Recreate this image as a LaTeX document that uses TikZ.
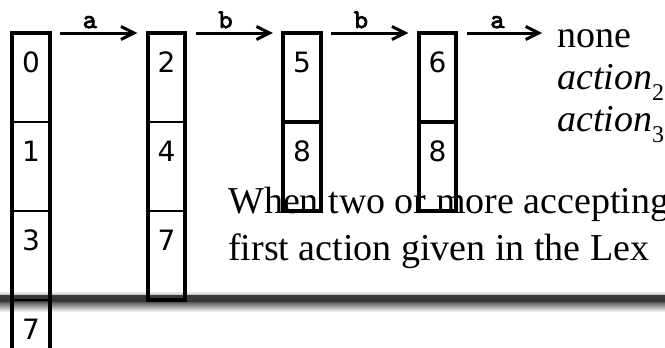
\documentclass[tikz,border=0pt]{standalone}
\usepackage{fontspec}
\setmainfont{Liberation Serif}
\setsansfont{DejaVu Sans}
\newfontfamily\labfont[Extension=.otf,FakeBold=3]{lmmono10-regular}
\usetikzlibrary{arrows.meta}
\newcommand{\act}[1]{\textit{action}\raisebox{-11pt}{\fontsize{24}{24}\selectfont #1}}

\begin{document}
\begin{tikzpicture}[x=1pt,y=-1pt, every node/.style={inner sep=0pt},
  col/.style={draw,line width=4pt,minimum width=37.5pt,outer sep=0pt,anchor=north},
  cell/.style={draw,line width=1.2pt,minimum width=37.5pt,minimum height=89pt,
  anchor=north,outer sep=0pt,text height=39pt,text depth=50pt,
  font=\sffamily\fontsize{28}{28}\selectfont}, tcell/.style={cell,line width=3.5pt},
  edge/.style={-{Straight Barb[length=13pt,width=13pt]},line width=3pt,
  shorten <=10.5pt,shorten >=10.5pt},
  lab/.style={font=\labfont\fontsize{27}{27}\selectfont,anchor=base,yshift=5pt},
  txt/.style={font=\fontsize{38}{38}\selectfont,anchor=base west}]
  \useasboundingbox (0,0) rectangle (665,348); \clip (0,0) rectangle (665,348);
  % slide shadow
  \shade[top color=white,bottom color=gray!55] (0,291) rectangle (665,295);
  \fill[black!78] (0,295) rectangle (665,302);
  \shade[top color=gray!70!black,bottom color=white] (0,302) rectangle (665,312);
  % state sets
  \node[cell] (c0) at (31,33) {0}; \node[cell] (c1) at (31,122) {1}; \node[cell]
  (c3) at (31,211) {3}; \node[cell] (c7a) at (31,300) {7}; \node[col,minimum
  height=356pt] (k1) at (31,33) {}; \node[cell] (c2) at (166.5,33) {2};
  \node[cell] (c4) at (166.5,122) {4}; \node[cell] (c7b) at (166.5,211) {7};
  \node[col,minimum height=267pt] (k2) at (166.5,33) {}; \node[tcell] (c5) at
  (302,33) {5}; \node[tcell] (c8a) at (302,122) {8}; \node[col,minimum
  height=178pt] (k3) at (302,33) {}; \node[tcell] (c6) at (437.5,33) {6};
  \node[tcell] (c8b) at (437.5,122) {8}; \node[col,minimum height=178pt] (k4) at
  (437.5,33) {};
  % actions and note
  \node[txt] (none) at (557,47) {none}; \node[txt] (act2) at (557,89) {\act{2}};
  \node[txt] (act3) at (557,131) {\act{3}}; \node[txt] (note1) at (228,213)
  {When two or more accepting}; \node[txt] (note2) at (228,260) {first action
  given in the Lex};
  \draw[edge] (k1.north east) -- node[lab,pos=0.41] {a} (k2.north west);
  \draw[edge] (k2.north east) -- node[lab,pos=0.41] {b} (k3.north west);
  \draw[edge] (k3.north east) -- node[lab,pos=0.41] {b} (k4.north west);
  \draw[edge,shorten >=15pt] (k4.north east) -- node[lab,pos=0.41] {a}
  (k4.north east -| none.west);
\end{tikzpicture}
\end{document}
